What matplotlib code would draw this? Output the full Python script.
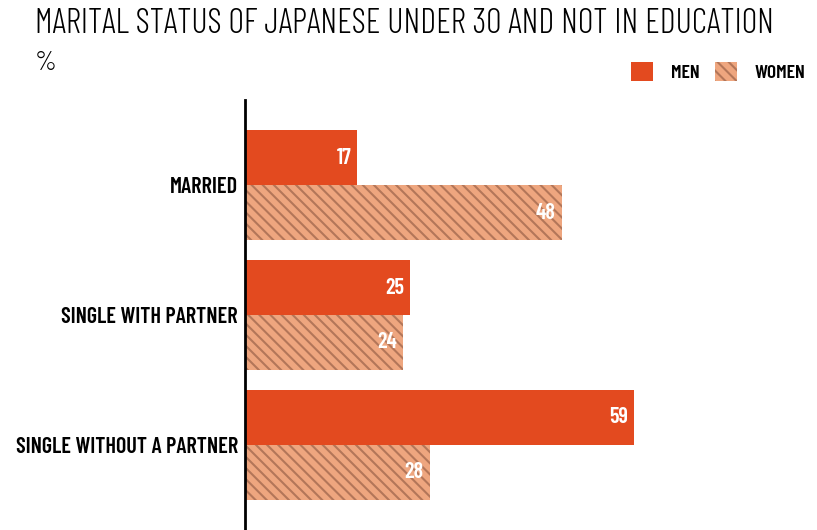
import matplotlib
matplotlib.use("Agg")
import matplotlib.pyplot as plt
from matplotlib.patches import Patch

categories = ["MARRIED", "SINGLE WITH PARTNER", "SINGLE WITHOUT A PARTNER"]
men = [17, 25, 59]
women = [48, 24, 28]

MEN_COLOR = "#e34a1f"
WOMEN_FILL = "#eea67f"
WOMEN_HATCH = "#b37659"

plt.rcParams["font.family"] = ["Barlow Condensed", "DejaVu Sans"]
plt.rcParams["hatch.linewidth"] = 1.5
plt.rcParams["hatch.color"] = WOMEN_HATCH

fig = plt.figure(figsize=(8.17, 5.30), dpi=100)
ax = fig.add_axes([245 / 817, 0.0, 1 - 245 / 817, 430 / 530])

bar_h = 0.423
y = range(len(categories))
ax.barh([i - bar_h / 2 for i in y], men, height=bar_h, color=MEN_COLOR, linewidth=0)
ax.barh([i + bar_h / 2 for i in y], women, height=bar_h, color=WOMEN_FILL,
        hatch="\\\\\\", edgecolor=WOMEN_HATCH, linewidth=0)

for i in y:
    ax.text(men[i] - 0.9, i - bar_h / 2, str(men[i]), color="white", fontsize=16,
            fontweight=600, ha="right", va="center")
    ax.text(women[i] - 0.9, i + bar_h / 2, str(women[i]), color="white", fontsize=16,
            fontweight=600, ha="right", va="center")

ax.set_ylim(2.654, -0.654)
ax.set_xlim(0, (817 - 245) / 6.6)
ax.set_yticks(list(y))
ax.set_yticklabels(categories, fontsize=16, fontweight=600)
ax.tick_params(axis="y", length=0, pad=5)
ax.set_xticks([])
for s in ["top", "right", "bottom"]:
    ax.spines[s].set_visible(False)
ax.spines["left"].set_linewidth(2)
ax.spines["left"].set_color("black")

fig.text(35 / 817, 1 - 24 / 530, "MARITAL STATUS OF JAPANESE UNDER 30 AND NOT IN EDUCATION",
         fontsize=24.6, fontweight=300, va="center", ha="left")
fig.text(35 / 817, 1 - 63 / 530, "%", fontsize=20, fontweight=300, va="center", ha="left")

handles = [Patch(facecolor=MEN_COLOR, linewidth=0, label="MEN"),
           Patch(facecolor=WOMEN_FILL, hatch="\\\\\\", edgecolor=WOMEN_HATCH, linewidth=0, label="WOMEN")]
fig.legend(handles=handles, loc="center right", bbox_to_anchor=(1.0, 1 - 72 / 530),
           ncol=2, frameon=False, handlelength=1.15, handleheight=1.15, borderaxespad=0.2,
           prop={"weight": 600, "size": 14}, columnspacing=0.8, handletextpad=0.9)

fig.savefig("out.png", dpi=100)
